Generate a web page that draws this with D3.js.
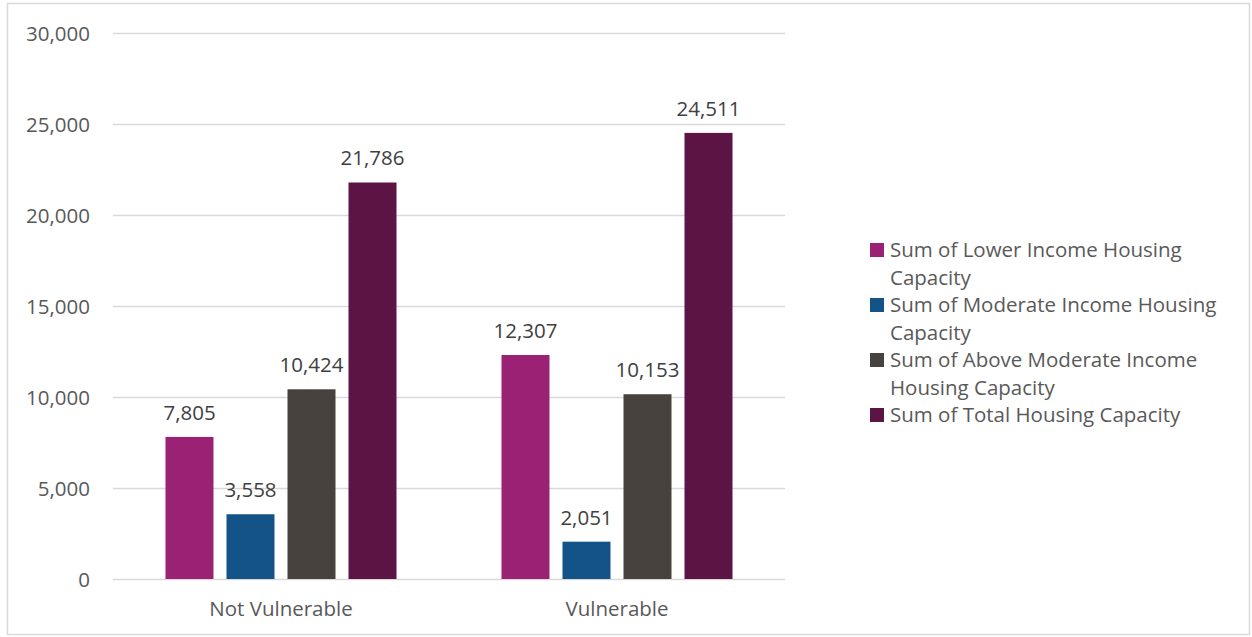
<!DOCTYPE html>
<html><head><meta charset="utf-8">
<script src="https://cdn.jsdelivr.net/npm/d3@7"></script>
<style>body{margin:0;background:#fff;}svg{display:block;font-family:"Open Sans",Lato,sans-serif;}</style>
</head><body>
<svg id="c" width="1252" height="637"></svg>
<script>
const categories = ["Not Vulnerable", "Vulnerable"];
const seriesNames = ["Sum of Lower Income Housing Capacity", "Sum of Moderate Income Housing Capacity", "Sum of Above Moderate Income Housing Capacity", "Sum of Total Housing Capacity"];
const legendLines = [["Sum of Lower Income Housing", "Capacity"], ["Sum of Moderate Income Housing", "Capacity"], ["Sum of Above Moderate Income", "Housing Capacity"], ["Sum of Total Housing Capacity"]];
const seriesColors = ["#9B2174", "#145387", "#48423F", "#5C1445"];
const lowerIncome = [7805, 12307];
const moderateIncome = [3558, 2051];
const aboveModerate = [10424, 10153];
const totalCapacity = [21786, 24511];
const yTicks = [0, 5000, 10000, 15000, 20000, 25000, 30000];

(function() {
const FONT = "'Open Sans',Lato,sans-serif", FS = 20.5;
const seriesValues = [lowerIncome, moderateIncome, aboveModerate, totalCapacity];
const svg = d3.select("#c");
svg.append("rect").attr("x", 7.5).attr("y", 3.5).attr("width", 1242).attr("height", 631).attr("fill", "#fff").attr("stroke", "#d9d9d9").attr("stroke-width", 1.5);

const pL = 113, pR = 785, pT = 33, pB = 579;
const x0 = d3.scaleBand().domain(categories).range([pL, pR]).paddingInner(0).paddingOuter(0);
const x1 = d3.scaleBand().domain(d3.range(4)).range([0, 231]).paddingInner(13/61).paddingOuter(0);
const y = d3.scaleLinear().domain([0, 30000]).range([pB, pT]);

const g = svg.append("g");
g.selectAll("line.grid").data(yTicks).join("line")
  .attr("x1", pL).attr("x2", pR)
  .attr("y1", d => Math.round(y(d)) + 0.5).attr("y2", d => Math.round(y(d)) + 0.5)
  .attr("stroke", "#d9d9d9").attr("stroke-width", 1.5);

const yAxis = d3.axisLeft(y).tickValues(yTicks).tickFormat(d3.format(",")).tickSize(0).tickPadding(0);
const ya = g.append("g").attr("transform", `translate(90,0)`).call(yAxis);
ya.select(".domain").remove();
ya.selectAll("text").attr("font-size", FS).attr("fill", "#595959").attr("font-family", FONT).attr("dy", "0.36em");

const xAxis = d3.axisBottom(x0).tickSize(0).tickPadding(0);
const xa = g.append("g").attr("transform", `translate(0,${pB + 22})`).call(xAxis);
xa.select(".domain").remove();
xa.selectAll("text").attr("font-size", FS).attr("fill", "#595959").attr("font-family", FONT).attr("dy", "0.71em");

const groups = g.selectAll("g.cat").data(categories).join("g")
  .attr("transform", c => `translate(${x0(c) + (x0.bandwidth() - 231) / 2},0)`);
groups.each(function(c, ci) {
  const gg = d3.select(this);
  seriesValues.forEach((vals, si) => {
    const v = vals[ci];
    gg.append("rect").attr("x", x1(si)).attr("width", x1.bandwidth())
      .attr("y", y(v)).attr("height", pB - y(v)).attr("fill", seriesColors[si]);
    gg.append("text").attr("x", x1(si) + x1.bandwidth() / 2).attr("y", y(v) - 17)
      .attr("text-anchor", "middle").attr("font-size", FS).attr("font-family", FONT).attr("fill", "#404040")
      .text(d3.format(",")(v));
  });
});

const lg = svg.append("g");
let ly = 250;
legendLines.forEach((lines, i) => {
  lg.append("rect").attr("x", 870).attr("y", ly - 7).attr("width", 14).attr("height", 14).attr("fill", seriesColors[i]);
  const t = lg.append("text").attr("x", 890).attr("y", ly).attr("font-size", FS).attr("font-family", FONT).attr("fill", "#595959");
  lines.forEach((ln, li) => {
    t.append("tspan").attr("x", 890).attr("dy", li === 0 ? "0.36em" : 27.5).text(ln);
  });
  ly += lines.length * 27.5;
});
})();
</script>
</body></html>
